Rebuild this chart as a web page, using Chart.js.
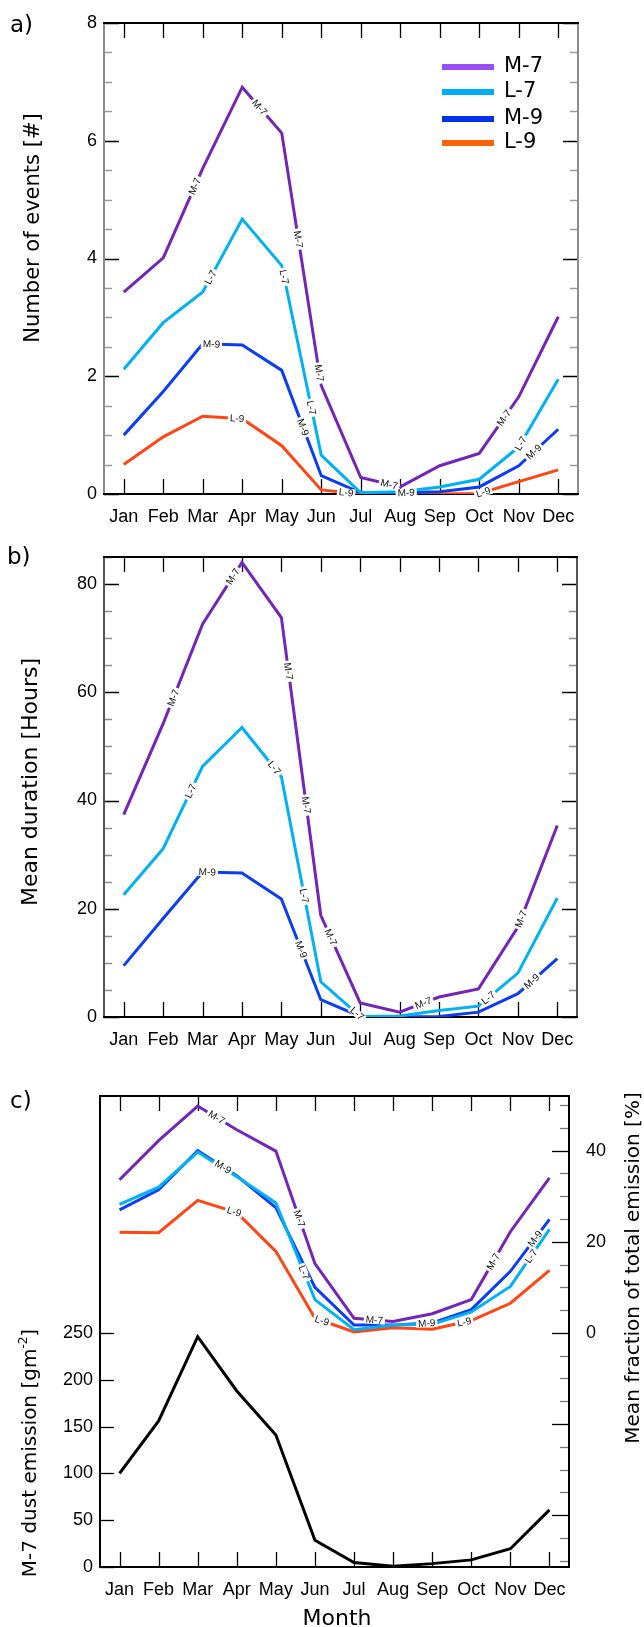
<!DOCTYPE html>
<html>
<head>
<meta charset="utf-8">
<script src="https://cdn.jsdelivr.net/npm/chart.js@4.4.1/dist/chart.umd.min.js"></script>
<style>
  body { margin: 0; background: #fff; }
  #wrap { position: relative; width: 644px; height: 1627px; }
  canvas { position: absolute; left: 0; }
</style>
</head>
<body>
<div id="wrap">
  <canvas id="chartA" width="644" height="530" style="top:0px"></canvas>
  <canvas id="chartB" width="644" height="520" style="top:530px"></canvas>
  <canvas id="chartC" width="644" height="577" style="top:1050px"></canvas>
</div>
<script>
// ---- data ----
var months = ['Jan', 'Feb', 'Mar', 'Apr', 'May', 'Jun', 'Jul', 'Aug', 'Sep', 'Oct', 'Nov', 'Dec'];

// a) number of events
var eventsM7 = [3.43, 4.01, 5.53, 6.91, 6.13, 1.84, 0.28, 0.12, 0.48, 0.69, 1.65, 3.01];
var eventsL7 = [2.12, 2.91, 3.43, 4.67, 3.88, 0.66, 0.02, 0.04, 0.12, 0.25, 0.80, 1.95];
var eventsM9 = [1.00, 1.74, 2.55, 2.53, 2.10, 0.31, 0.02, 0.02, 0.04, 0.12, 0.48, 1.10];
var eventsL9 = [0.50, 0.97, 1.32, 1.28, 0.82, 0.07, 0.00, 0.00, 0.00, 0.01, 0.21, 0.41];

// b) mean duration
var durM7 = [37.4, 54.2, 72.6, 84.0, 73.8, 18.8, 2.6, 0.9, 3.7, 5.2, 16.6, 35.4];
var durL7 = [22.6, 31.1, 46.3, 53.5, 44.4, 6.5, 0.1, 0.2, 1.2, 2.0, 8.1, 22.0];
var durM9 = [9.5, 18.2, 26.8, 26.6, 21.8, 3.2, 0.1, 0.0, 0.1, 0.9, 4.3, 10.8];

// c) dust emission (left axis) and fraction of total emission (right axis)
var emisM7 = [100, 156, 246, 188, 141, 28.6, 4.8, 0.8, 3.6, 7.6, 19.5, 61];
var fracM7 = [33.6, 42.2, 49.8, 44.6, 39.9, 15.2, 3.2, 2.5, 4.2, 7.3, 22.2, 34.0];
var fracL7 = [28.2, 32.0, 39.7, 34.3, 28.5, 7.3, 0.7, 1.7, 1.9, 4.6, 10.2, 22.7];
var fracM9 = [27.0, 31.4, 40.0, 34.5, 27.5, 10.0, 1.7, 1.7, 2.2, 5.1, 13.5, 24.9];
var fracL9 = [22.1, 22.0, 29.1, 26.4, 17.9, 3.2, 0.2, 1.1, 0.8, 2.7, 6.5, 13.7];

// tick labels
var ticksEvents = [0, 2, 4, 6, 8];
var ticksDuration = [0, 20, 40, 60, 80];
var ticksEmission = [0, 50, 100, 150, 200, 250];
var ticksFraction = [0, 20, 40];

// ---- styles ----
var cM7 = '#7424b8', cL7 = '#00b2f4', cM9 = '#0b3df3', cL9 = '#ff4612';
var tickFont = { family: '"Liberation Sans", Arial, sans-serif', size: 18 };
var titleFamily = '"DejaVu Sans", sans-serif';

function steps(from, to, step, skip) {
  var out = [];
  for (var v = from; v <= to + 1e-9; v += step) {
    var r = Math.round(v * 100) / 100;
    if (!skip || Math.abs(r % skip) > 1e-6) out.push(r);
  }
  return out;
}

function line(label, data, color, axis) {
  return {
    label: label, data: data, borderColor: color, borderWidth: 3,
    pointRadius: 0, tension: 0, fill: false, yAxisID: axis || 'y'
  };
}

// inward tick marks and frame
function framePlugin(o) {
  return {
    id: 'frame',
    beforeDatasetsDraw: function(chart) {
      var ctx = chart.ctx, a = chart.chartArea, s = chart.scales;
      ctx.save();
      ctx.lineWidth = 1.3;
      ctx.strokeStyle = '#000';
      months.forEach(function(m, i) {
        var x = Math.round(s.x.getPixelForValue(i)) + 0.5;
        ctx.beginPath();
        ctx.moveTo(x, a.top); ctx.lineTo(x, a.top + 15);
        ctx.moveTo(x, a.bottom); ctx.lineTo(x, a.bottom - 15);
        ctx.stroke();
      });
      o.marks.forEach(function(mk) {
        var sc = s[mk.axis];
        ctx.strokeStyle = mk.color;
        mk.values.forEach(function(v) {
          var y = Math.round(sc.getPixelForValue(v)) + 0.5;
          ctx.beginPath();
          if (mk.left) { ctx.moveTo(a.left, y); ctx.lineTo(a.left + mk.len, y); }
          if (mk.right) { ctx.moveTo(a.right, y); ctx.lineTo(a.right - mk.len, y); }
          ctx.stroke();
        });
      });
      ctx.lineWidth = 2;
      ctx.strokeStyle = o.side;
      ctx.beginPath();
      ctx.moveTo(a.left, a.top); ctx.lineTo(a.left, a.bottom);
      ctx.moveTo(a.right, a.top); ctx.lineTo(a.right, a.bottom);
      ctx.stroke();
      ctx.strokeStyle = '#000';
      ctx.beginPath();
      ctx.moveTo(a.left - 1, a.top); ctx.lineTo(a.right + 1, a.top);
      ctx.moveTo(a.left - 1, a.bottom); ctx.lineTo(a.right + 1, a.bottom);
      ctx.stroke();
      ctx.restore();
    }
  };
}

// small labels written along the lines: [dataset, segment, fraction]
function labelPlugin(items) {
  return {
    id: 'inlabels',
    afterDatasetsDraw: function(chart) {
      var ctx = chart.ctx;
      items.forEach(function(it) {
        var pts = chart.getDatasetMeta(it[0]).data;
        var p0 = pts[it[1]], p1 = pts[it[1] + 1];
        var x = p0.x + (p1.x - p0.x) * it[2];
        var y = p0.y + (p1.y - p0.y) * it[2];
        var ang = Math.atan2(p1.y - p0.y, p1.x - p0.x);
        var txt = chart.data.datasets[it[0]].label;
        ctx.save();
        ctx.font = '10px "Liberation Sans", Arial, sans-serif';
        ctx.textAlign = 'center';
        ctx.textBaseline = 'middle';
        var w = ctx.measureText(txt).width + 4;
        ctx.translate(x, y);
        ctx.rotate(ang);
        ctx.fillStyle = '#fff';
        ctx.fillRect(-w / 2, -4, w, 8);
        ctx.fillStyle = '#111';
        ctx.fillText(txt, 0, 0.5);
        ctx.restore();
      });
    }
  };
}

// panel letters, axis titles, legend
function textPlugin(items, legend) {
  return {
    id: 'texts',
    afterDraw: function(chart) {
      var ctx = chart.ctx;
      items.forEach(function(t) {
        ctx.save();
        ctx.fillStyle = '#000';
        ctx.textBaseline = 'middle';
        ctx.translate(t.x, t.y);
        if (t.rot) ctx.rotate(t.rot);
        var parts = t.parts || [{ s: t.text }];
        var total = 0;
        parts.forEach(function(p) {
          ctx.font = (p.sup ? Math.round(t.size * 0.62) : t.size) + 'px ' + titleFamily;
          p.w = ctx.measureText(p.s).width;
          total += p.w;
        });
        var x0 = t.align === 'left' ? 0 : -total / 2;
        ctx.textAlign = 'left';
        parts.forEach(function(p) {
          ctx.font = (p.sup ? Math.round(t.size * 0.62) : t.size) + 'px ' + titleFamily;
          ctx.fillText(p.s, x0, p.sup ? -t.size * 0.38 : 0);
          x0 += p.w;
        });
        ctx.restore();
      });
      if (legend) {
        legend.forEach(function(l) {
          ctx.save();
          ctx.fillStyle = l.color;
          ctx.fillRect(442, l.y - 3, 52, 6);
          ctx.fillStyle = '#000';
          ctx.font = '21px ' + titleFamily;
          ctx.textBaseline = 'middle';
          ctx.fillText(l.text, 504, l.y);
          ctx.restore();
        });
      }
    }
  };
}

function yAxis(min, max, ticks, width, pos) {
  return {
    type: 'linear', position: pos || 'left', min: min, max: max,
    afterBuildTicks: function(scale) { scale.ticks = ticks.map(function(v) { return { value: v }; }); },
    afterFit: function(scale) { scale.width = width; },
    grid: { display: false, drawTicks: false },
    border: { display: false },
    ticks: { font: tickFont, color: '#000', padding: pos === 'right' ? 17 : 7 }
  };
}

function xAxis(height) {
  return {
    type: 'category', offset: true,
    afterFit: function(scale) { scale.height = height; },
    grid: { display: false, drawTicks: false },
    border: { display: false },
    ticks: { font: tickFont, color: '#000', padding: 12, maxRotation: 0, autoSkip: false }
  };
}

var common = {
  responsive: false, animation: false,
  plugins: { legend: { display: false }, tooltip: { enabled: false } }
};

// ---- a) ----
new Chart(document.getElementById('chartA'), {
  type: 'line',
  data: {
    labels: months,
    datasets: [line('M-7', eventsM7, cM7), line('L-7', eventsL7, cL7), line('M-9', eventsM9, cM9), line('L-9', eventsL9, cL9)]
  },
  options: Object.assign({}, common, {
    layout: { padding: { top: 23, right: 66, left: 0, bottom: 0 } },
    scales: { x: xAxis(36), y: yAxis(0, 8, ticksEvents, 104) }
  }),
  plugins: [
    framePlugin({ side: '#8c8c8c', marks: [
      { axis: 'y', values: ticksEvents, len: 15, color: '#000', left: true, right: true },
      { axis: 'y', values: steps(0, 8, 0.5, 2), len: 8, color: '#9a9a9a', left: true, right: true }
    ] }),
    labelPlugin([[0, 1, 0.8], [0, 3, 0.44], [0, 4, 0.42], [0, 4, 0.95], [0, 6, 0.72], [0, 9, 0.63],
                 [1, 2, 0.2], [1, 4, 0.06], [1, 4, 0.75], [1, 10, 0.05],
                 [2, 2, 0.22], [2, 4, 0.54], [2, 7, 0.15], [2, 10, 0.38],
                 [3, 2, 0.87], [3, 5, 0.63], [3, 9, 0.1]]),
    textPlugin([
      { text: 'a)', x: 10, y: 26, size: 23, align: 'left' },
      { text: 'Number of events [#]', x: 34, y: 228, size: 21, rot: -Math.PI / 2 }
    ], [
      { text: 'M-7', color: '#9b4dfa', y: 67 },
      { text: 'L-7', color: '#00aef8', y: 92 },
      { text: 'M-9', color: '#0432ea', y: 119 },
      { text: 'L-9', color: '#ff6200', y: 143 }
    ])
  ]
});

// ---- b) ----
new Chart(document.getElementById('chartB'), {
  type: 'line',
  data: {
    labels: months,
    datasets: [line('M-7', durM7, cM7), line('L-7', durL7, cL7), line('M-9', durM9, cM9)]
  },
  options: Object.assign({}, common, {
    layout: { padding: { top: 27, right: 67, left: 0, bottom: 0 } },
    scales: { x: xAxis(33), y: yAxis(0, 85, ticksDuration, 104) }
  }),
  plugins: [
    framePlugin({ side: '#555', marks: [
      { axis: 'y', values: ticksDuration, len: 15, color: '#000', left: true, right: true },
      { axis: 'y', values: steps(0, 85, 5, 20), len: 8, color: '#8a8a8a', left: true, right: true }
    ] }),
    labelPlugin([[0, 1, 0.26], [0, 2, 0.77], [0, 4, 0.18], [0, 4, 0.63], [0, 5, 0.25], [0, 7, 0.6], [0, 10, 0.08],
                 [1, 1, 0.7], [1, 3, 0.82], [1, 4, 0.58], [1, 5, 0.92], [1, 9, 0.25],
                 [2, 2, 0.12], [2, 4, 0.5], [2, 10, 0.35]]),
    textPlugin([
      { text: 'b)', x: 7, y: 28, size: 23, align: 'left' },
      { text: 'Mean duration [Hours]', x: 31, y: 252, size: 22, rot: -Math.PI / 2 }
    ])
  ]
});

// ---- c) ----
new Chart(document.getElementById('chartC'), {
  type: 'line',
  data: {
    labels: months,
    datasets: [line('M-7', fracM7, cM7, 'y2'), line('L-7', fracL7, cL7, 'y2'), line('M-9', fracM9, cM9, 'y2'),
               line('L-9', fracL9, cL9, 'y2'), line('M-7 emission', emisM7, '#000', 'y')]
  },
  options: Object.assign({}, common, {
    layout: { padding: { top: 46, right: 0, left: 0, bottom: 0 } },
    scales: {
      x: xAxis(60),
      y: yAxis(0, 503, ticksEmission, 100),
      y2: yAxis(-51.4, 52, ticksFraction, 75, 'right')
    }
  }),
  plugins: [
    framePlugin({ side: '#000', marks: [
      { axis: 'y', values: ticksEmission, len: 14, color: '#000', left: true },
      { axis: 'y2', values: [-40, -20, 0, 20, 40], len: 17, color: '#000', right: true },
      { axis: 'y2', values: steps(-50, 50, 5, 20), len: 9, color: '#777', right: true }
    ] }),
    labelPlugin([[0, 2, 0.48], [0, 4, 0.6], [0, 6, 0.52], [0, 9, 0.56],
                 [1, 4, 0.72], [1, 10, 0.53],
                 [2, 2, 0.65], [2, 7, 0.86], [2, 10, 0.63],
                 [3, 2, 0.93], [3, 5, 0.18], [3, 8, 0.82]]),
    textPlugin([
      { text: 'c)', x: 10, y: 52, size: 23, align: 'left' },
      { parts: [{ s: 'M-7 dust emission [gm' }, { s: '-2', sup: true }, { s: ']' }], x: 31, y: 403, size: 20, rot: -Math.PI / 2 },
      { text: 'Mean fraction of total emission [%]', x: 634, y: 218, size: 20, rot: -Math.PI / 2 },
      { text: 'Month', x: 337, y: 569, size: 22 }
    ])
  ]
});
</script>
</body>
</html>
